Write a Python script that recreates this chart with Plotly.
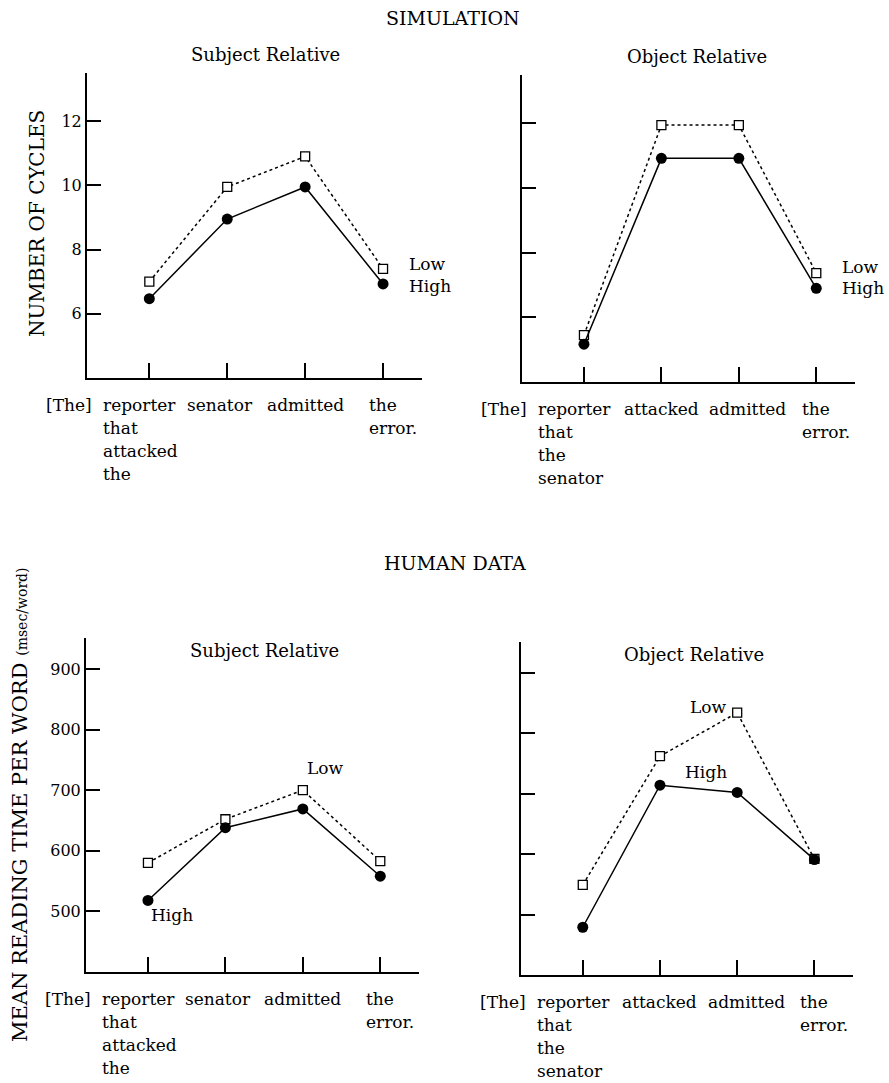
import plotly.graph_objects as go

positions = [1, 2, 3, 4]

sim_subj_low = [7.0, 9.95, 10.9, 7.4]
sim_subj_high = [6.47, 8.95, 9.95, 6.93]
sim_obj_low = [5.45, 11.95, 11.95, 7.37]
sim_obj_high = [5.17, 10.92, 10.92, 6.9]

hum_subj_low = [580, 652, 700, 583]
hum_subj_high = [518, 638, 669, 558]
hum_obj_low = [549, 762, 834, 592]
hum_obj_high = [479, 714, 702, 591]

sim_ticks = [6, 8, 10, 12]
hum_ticks = [500, 600, 700, 800, 900]

subj_words = [["reporter", "that", "attacked", "the"], ["senator"], ["admitted"], ["the", "error."]]
obj_words = [["reporter", "that", "the", "senator"], ["attacked"], ["admitted"], ["the", "error."]]

FONT = "'DejaVu Serif', 'Liberation Serif', serif"
W, H = 889, 1083
WORD_SIZE = 17


def px_x(v):
    return v / W


def px_y(v):
    return 1 - v / H


panels = [
    ("x", "y", (87, 422), (73, 378), sim_subj_low, sim_subj_high, [4, 13.5], sim_ticks, True, subj_words),
    ("x2", "y2", (522, 855), (75, 382), sim_obj_low, sim_obj_high, [4, 13.5], sim_ticks, False, obj_words),
    ("x3", "y3", (86, 419), (638, 972), hum_subj_low, hum_subj_high, [400, 951], hum_ticks, True, subj_words),
    ("x4", "y4", (521, 853), (642, 975), hum_obj_low, hum_obj_high, [400, 951], hum_ticks, False, obj_words),
]

fig = go.Figure()
annotations = []
layout = {}

for i, (xa, ya, xr, yr, low, high, yrange, ticks, showlab, words) in enumerate(panels):
    fig.add_trace(go.Scatter(
        x=positions, y=low, xaxis=xa, yaxis=ya, mode="lines+markers",
        line=dict(color="black", width=1.5, dash="dot"),
        marker=dict(symbol="square", size=9, color="white", line=dict(color="black", width=1.3)),
        showlegend=False, hoverinfo="skip"))
    fig.add_trace(go.Scatter(
        x=positions, y=high, xaxis=xa, yaxis=ya, mode="lines+markers",
        line=dict(color="black", width=1.5),
        marker=dict(symbol="circle", size=11, color="black"),
        showlegend=False, hoverinfo="skip"))

    xkey = "xaxis" + ("" if xa == "x" else xa[1:])
    ykey = "yaxis" + ("" if ya == "y" else ya[1:])
    layout[xkey] = dict(
        domain=[px_x(xr[0]), px_x(xr[1])], anchor=ya, range=[0.2, 4.5],
        showline=True, linecolor="black", linewidth=2, mirror=False,
        ticks="inside", ticklen=15, tickwidth=2, tickcolor="black",
        tickvals=positions, showticklabels=False, showgrid=False, zeroline=False)
    layout[ykey] = dict(
        domain=[px_y(yr[1]), px_y(yr[0])], anchor=xa, range=yrange,
        showline=True, linecolor="black", linewidth=2,
        ticks="inside", ticklen=14, tickwidth=2, tickcolor="black",
        tickvals=ticks, showticklabels=showlab, showgrid=False, zeroline=False,
        tickfont=dict(family=FONT, size=16, color="black"))

    yref = ya + " domain"
    annotations.append(dict(text="[The]", x=1, xref=xa, y=0, yref=yref, xanchor="right",
                            yanchor="middle", xshift=-55, yshift=-27, showarrow=False,
                            font=dict(size=WORD_SIZE)))
    for k, lines in enumerate(words):
        if k == 0:
            anchor, xs = "left", -48
        elif k == 3:
            anchor, xs = "left", -16
        else:
            anchor = "center"
            xs = -7 if (k == 1 and i in (0, 2)) else (9 if (k == 2 and i in (1, 3)) else 0)
        for j, w in enumerate(lines):
            annotations.append(dict(text=w, x=positions[k], xref=xa, y=0, yref=yref,
                                    xanchor=anchor, yanchor="middle", xshift=xs,
                                    yshift=-27 - 23 * j, showarrow=False,
                                    font=dict(size=WORD_SIZE)))

lab = dict(showarrow=False, yanchor="middle", font=dict(size=WORD_SIZE))
annotations += [
    dict(text="Low", x=4, y=sim_subj_low[3], xref="x", yref="y", xanchor="left",
         xshift=24, yshift=5, **lab),
    dict(text="High", x=4, y=sim_subj_high[3], xref="x", yref="y", xanchor="left",
         xshift=24, yshift=-2, **lab),
    dict(text="Low", x=4, y=sim_obj_low[3], xref="x2", yref="y2", xanchor="left",
         xshift=24, yshift=6, **lab),
    dict(text="High", x=4, y=sim_obj_high[3], xref="x2", yref="y2", xanchor="left",
         xshift=24, yshift=0, **lab),
    dict(text="Low", x=3, y=hum_subj_low[2], xref="x3", yref="y3", xanchor="left",
         xshift=2, yshift=22, **lab),
    dict(text="High", x=1, y=hum_subj_high[0], xref="x3", yref="y3", xanchor="left",
         xshift=1, yshift=-15, **lab),
    dict(text="Low", x=3, y=hum_obj_low[2], xref="x4", yref="y4", xanchor="right",
         xshift=-8, yshift=6, **lab),
    dict(text="High", x=3, y=hum_obj_high[2], xref="x4", yref="y4", xanchor="center",
         xshift=-31, yshift=20, **lab),
]


def paper_text(text, x, y, size=18, angle=0):
    return dict(text=text, x=px_x(x), y=px_y(y), xref="paper", yref="paper", xanchor="center",
                yanchor="middle", showarrow=False, textangle=angle,
                font=dict(family=FONT, size=size, color="black"))


annotations += [
    paper_text("SIMULATION", 453, 18, size=19),
    paper_text("Subject Relative", 265, 55),
    paper_text("Object Relative", 697, 57),
    paper_text("HUMAN DATA", 455, 563, size=19),
    paper_text("Subject Relative", 264, 650),
    paper_text("Object Relative", 694, 654),
    paper_text("NUMBER OF CYCLES", 37, 224, size=20, angle=-90),
    paper_text("MEAN READING TIME PER WORD <span style='font-size:14px'>(msec/word)</span>", 20, 805,
               size=21, angle=-90),
]

fig.update_layout(
    width=W, height=H, margin=dict(l=0, r=0, t=0, b=0),
    paper_bgcolor="white", plot_bgcolor="white",
    font=dict(family=FONT, size=16, color="black"),
    annotations=annotations, showlegend=False,
    **layout)

fig.write_html("out.html", config={"displayModeBar": False},
               post_script="document.body.style.margin='0';document.body.style.padding='0';")
